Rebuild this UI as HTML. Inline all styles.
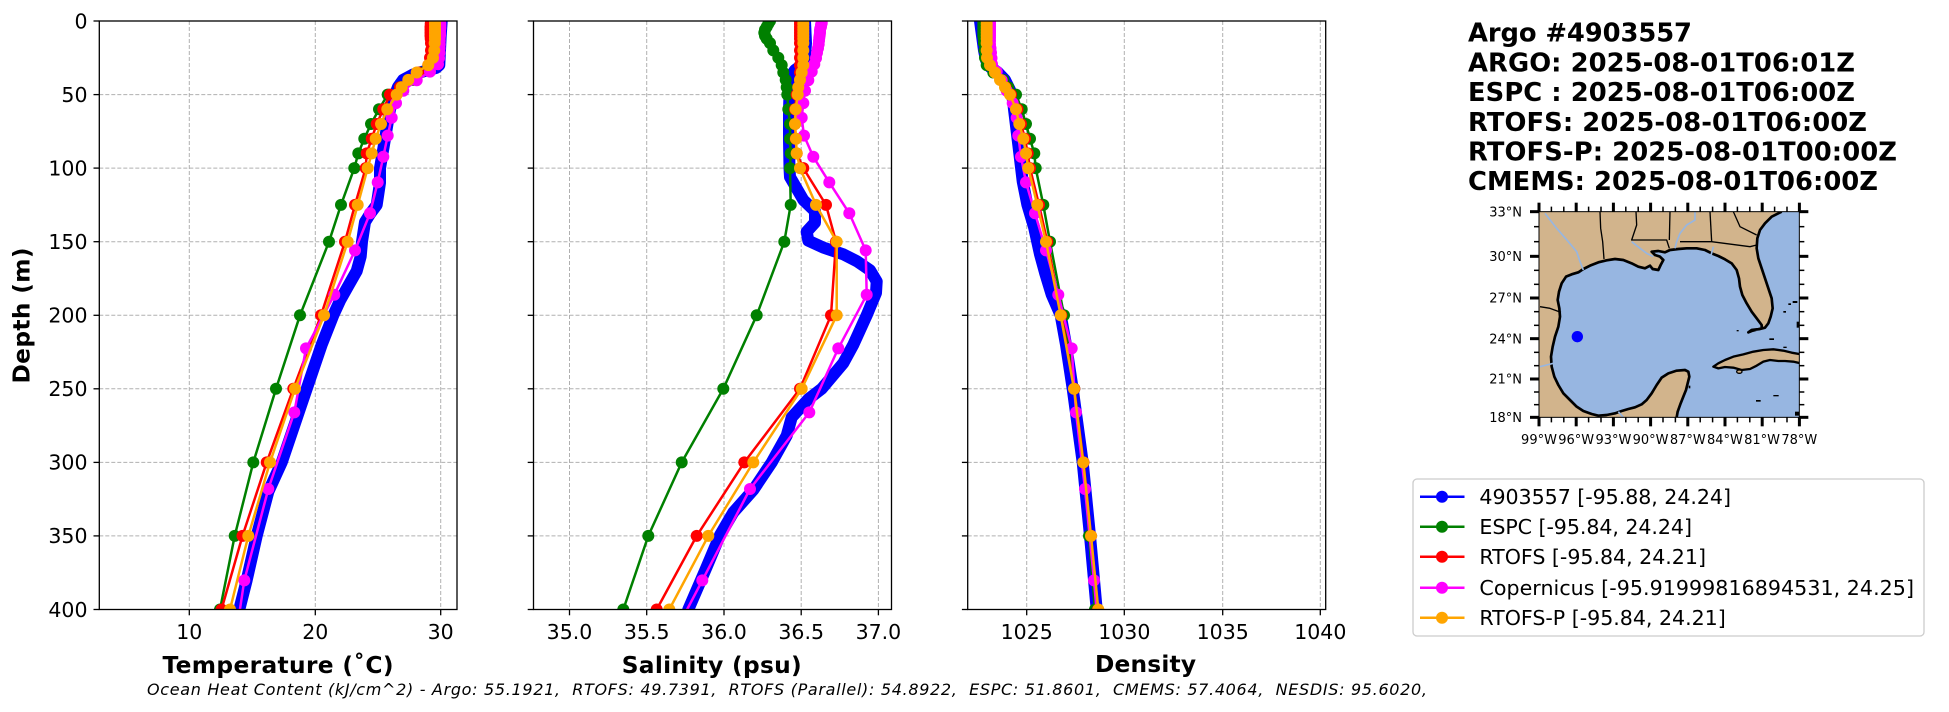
<!DOCTYPE html>
<html><head><meta charset="utf-8"><style>
html,body{margin:0;padding:0;background:#fff;width:1949px;height:712px;overflow:hidden;}
svg{display:block;font-family:"DejaVu Sans","Liberation Sans",sans-serif;}
.grid line{stroke:#b0b0b0;stroke-width:1;stroke-dasharray:4 2;}
.tk line{stroke:#000;stroke-width:1.3;}
.tl{font-size:20.5px;fill:#000;}
.ser{fill:none;stroke-width:2.5;stroke-linejoin:round;}
.ax{font-size:23.3px;font-weight:bold;}
</style></head><body>
<svg width="1949" height="712" viewBox="0 0 1949 712" xmlns="http://www.w3.org/2000/svg">
<defs>
<clipPath id="c1"><rect x="99.3" y="21" width="357.7" height="588.5"/></clipPath>
<clipPath id="c2"><rect x="533.5" y="21" width="358" height="588.5"/></clipPath>
<clipPath id="c3"><rect x="967.7" y="21" width="358" height="588.5"/></clipPath>
<clipPath id="cm"><rect x="267" y="50" width="781" height="617"/></clipPath>
<marker id="mg" markerUnits="userSpaceOnUse" markerWidth="14" markerHeight="14" viewBox="-7 -7 14 14" refX="0" refY="0"><circle r="6" fill="#008000"/></marker>
<marker id="mr" markerUnits="userSpaceOnUse" markerWidth="14" markerHeight="14" viewBox="-7 -7 14 14" refX="0" refY="0"><circle r="6" fill="#ff0000"/></marker>
<marker id="mm" markerUnits="userSpaceOnUse" markerWidth="14" markerHeight="14" viewBox="-7 -7 14 14" refX="0" refY="0"><circle r="6" fill="#ff00ff"/></marker>
<marker id="mo" markerUnits="userSpaceOnUse" markerWidth="14" markerHeight="14" viewBox="-7 -7 14 14" refX="0" refY="0"><circle r="6" fill="#ffa500"/></marker>
</defs>
<rect x="0" y="0" width="1949" height="712" fill="#fff"/>

<!-- ============ PANEL 1 : Temperature ============ -->
<g class="grid">
<line x1="189.3" y1="21" x2="189.3" y2="609.5"/><line x1="315.3" y1="21" x2="315.3" y2="609.5"/><line x1="440.7" y1="21" x2="440.7" y2="609.5"/>
<line x1="99.3" y1="94.6" x2="457" y2="94.6"/><line x1="99.3" y1="168.1" x2="457" y2="168.1"/><line x1="99.3" y1="241.7" x2="457" y2="241.7"/><line x1="99.3" y1="315.3" x2="457" y2="315.3"/><line x1="99.3" y1="388.8" x2="457" y2="388.8"/><line x1="99.3" y1="462.4" x2="457" y2="462.4"/><line x1="99.3" y1="535.9" x2="457" y2="535.9"/>
</g>
<g clip-path="url(#c1)">
<polyline class="ser" stroke="#0000ff" stroke-linecap="round" style="stroke-width:12" points="441.7,21 440.7,35.7 440,50.4 439.3,65.1 436,68 425,71 413,74.5 403,79.9 398,87 395,94.6 390,109.3 385,138.7 380,168.1 380,182.8 376.7,204.9 370,214 365,222 362,241.7 360.7,256.4 356.7,271 348.3,285.8 340,300.6 333.3,315.3 321.7,344.7 311.7,374.1 301.7,403.5 291.7,433 281.7,462.4 268.3,491.8 256.7,535.9 246.7,580.1 239.3,609.5"/>
<polyline class="ser" stroke="#008000" marker-start="url(#mg)" marker-mid="url(#mg)" marker-end="url(#mg)" points="440,21 440,23.9 440,26.9 439.5,29.8 439.5,32.8 439,35.7 438.5,38.7 438,43.1 437,50.4 434,57.8 430,65.1 420,72.5 413.3,79.9 400,87.2 387.7,94.6 379,109.3 371,124 364.3,138.7 358.3,153.4 354.3,168.1 341,204.9 329,241.7 300,315.3 276,388.8 253.3,462.4 234.7,535.9 220,609.5"/>
<polyline class="ser" stroke="#ff0000" marker-start="url(#mr)" marker-mid="url(#mr)" marker-end="url(#mr)" points="431,21 430.7,23.9 430.5,26.9 430.5,29.8 430.5,32.8 430.5,35.7 430.7,38.7 431,43.1 431,50.4 430,57.8 428.3,65.1 418.3,72.5 410,79.9 400,87.2 390,94.6 383.3,109.3 376.7,124 371.7,138.7 366.7,153.4 365.7,168.1 355,204.9 345,241.7 321,315.3 293.3,388.8 266.7,462.4 242.5,535.9 221.5,609.5"/>
<polyline class="ser" stroke="#ff00ff" marker-start="url(#mm)" marker-mid="url(#mm)" marker-end="url(#mm)" points="440,21.7 440.3,23.3 440.3,24.9 440.3,26.6 440.3,28.5 440,30.5 440,32.7 440,35.1 439.7,37.8 439.7,40.8 439.7,44.3 439.5,48.2 439.5,52.8 439,58.1 438,64.3 430,71.6 416.7,80.3 403.3,90.7 396,103.1 391.7,117.8 387.7,135.6 383.3,156.8 377.7,182.4 370,213.3 355,250.4 334.3,294.8 306,348.4 294.3,412.4 268.3,489 244.3,580.4 228,688.8"/>
<polyline class="ser" stroke="#ffa500" marker-start="url(#mo)" marker-mid="url(#mo)" marker-end="url(#mo)" points="435,21 435,23.9 435,26.9 435,29.8 435,32.8 435,35.7 435,38.7 434.7,43.1 434.3,50.4 433,57.8 428.3,65.1 416.7,72.5 408.3,79.9 401.7,87.2 396.7,94.6 387.3,109.3 381,124 375.7,138.7 371.7,153.4 367.7,168.1 357.7,204.9 347.7,241.7 324,315.3 295,388.8 270,462.4 248.3,535.9 230,609.5"/>
</g>
<rect x="99.3" y="21" width="357.7" height="588.5" fill="none" stroke="#000" stroke-width="1.3"/>
<g class="tk">
<line x1="93.5" y1="21" x2="99.3" y2="21"/><line x1="93.5" y1="94.6" x2="99.3" y2="94.6"/><line x1="93.5" y1="168.1" x2="99.3" y2="168.1"/><line x1="93.5" y1="241.7" x2="99.3" y2="241.7"/><line x1="93.5" y1="315.3" x2="99.3" y2="315.3"/><line x1="93.5" y1="388.8" x2="99.3" y2="388.8"/><line x1="93.5" y1="462.4" x2="99.3" y2="462.4"/><line x1="93.5" y1="535.9" x2="99.3" y2="535.9"/><line x1="93.5" y1="609.5" x2="99.3" y2="609.5"/>
<line x1="189.3" y1="609.5" x2="189.3" y2="615.3"/><line x1="315.3" y1="609.5" x2="315.3" y2="615.3"/><line x1="440.7" y1="609.5" x2="440.7" y2="615.3"/>
</g>
<g class="tl" text-anchor="end">
<text x="87.5" y="28.3">0</text><text x="87.5" y="101.9">50</text><text x="87.5" y="175.4">100</text><text x="87.5" y="249">150</text><text x="87.5" y="322.6">200</text><text x="87.5" y="396.1">250</text><text x="87.5" y="469.7">300</text><text x="87.5" y="543.2">350</text><text x="87.5" y="616.8">400</text>
</g>
<g class="tl" text-anchor="middle">
<text x="189.3" y="639">10</text><text x="315.3" y="639">20</text><text x="440.7" y="639">30</text>
</g>
<text class="ax" x="278" y="673" text-anchor="middle" textLength="231">Temperature (˚C)</text>
<text class="ax" transform="translate(29.5,315.5) rotate(-90)" text-anchor="middle" textLength="136">Depth (m)</text>

<!-- ============ PANEL 2 : Salinity ============ -->
<g class="grid">
<line x1="569.5" y1="21" x2="569.5" y2="609.5"/><line x1="646.7" y1="21" x2="646.7" y2="609.5"/><line x1="724" y1="21" x2="724" y2="609.5"/><line x1="801.2" y1="21" x2="801.2" y2="609.5"/><line x1="878.4" y1="21" x2="878.4" y2="609.5"/>
<line x1="533.5" y1="94.6" x2="891.5" y2="94.6"/><line x1="533.5" y1="168.1" x2="891.5" y2="168.1"/><line x1="533.5" y1="241.7" x2="891.5" y2="241.7"/><line x1="533.5" y1="315.3" x2="891.5" y2="315.3"/><line x1="533.5" y1="388.8" x2="891.5" y2="388.8"/><line x1="533.5" y1="462.4" x2="891.5" y2="462.4"/><line x1="533.5" y1="535.9" x2="891.5" y2="535.9"/>
</g>
<g clip-path="url(#c2)">
<polyline class="ser" stroke="#0000ff" stroke-linecap="round" style="stroke-width:12" points="805,21 806,43 805,58 802,65 795,70 791,76 790,80 789,110 789,140 789.5,168 790,177 803.3,199.9 815,211.2 815,222.6 806.7,231.7 808.3,240.7 823.3,247.6 843.3,254.3 856.7,261.1 870,270.2 876.7,281.4 876,292.9 866.7,315.3 853.3,344.7 843.3,363.1 821.7,388.8 808.3,399.1 791.7,417.4 786.7,435.6 771.7,462.4 753.3,489.9 733.3,512.4 720,535.2 706.7,566.8 688.3,609.5"/>
<polyline class="ser" stroke="#008000" marker-start="url(#mg)" marker-mid="url(#mg)" marker-end="url(#mg)" points="770,21 768.3,23.9 766.7,26.9 765,29.8 764.3,32.8 765,35.7 766.7,38.7 770,43.1 773.3,50.4 778.3,57.8 781.7,65.1 783.3,72.5 785.7,79.9 786.7,87.2 787.3,94.6 788.3,109.3 790,124 790,138.7 790.7,153.4 790,168.1 790.7,204.9 784.3,241.7 756.7,315.3 723.3,388.8 681.7,462.4 648.3,535.9 623.3,609.5"/>
<polyline class="ser" stroke="#ff0000" marker-start="url(#mr)" marker-mid="url(#mr)" marker-end="url(#mr)" points="800,21 800,23.9 800,26.9 800,29.8 800,32.8 800,35.7 800,38.7 800,43.1 800,50.4 800,57.8 800,65.1 800,72.5 800,79.9 798.3,87.2 796.7,94.6 795,109.3 795,124 795.7,138.7 796.7,153.4 803.3,168.1 826,204.9 836,241.7 831,315.3 800,388.8 744.3,462.4 696.7,535.9 656.7,609.5"/>
<polyline class="ser" stroke="#ff00ff" marker-start="url(#mm)" marker-mid="url(#mm)" marker-end="url(#mm)" points="821.7,21.7 821.7,23.3 821,24.9 821,26.6 820.3,28.5 820,30.5 820,32.7 819.7,35.1 819.3,37.8 819,40.8 818.7,44.3 818,48.2 817,52.8 816,58.1 814.3,64.3 811.7,71.6 808.3,80.3 805,90.7 803.3,103.1 801.7,117.8 804,135.6 813.3,156.8 829.3,182.4 849.3,213.3 865.7,250.4 866.7,294.8 838.3,348.4 809.3,412.4 750,489 702.3,580.4 645.6,688.8"/>
<polyline class="ser" stroke="#ffa500" marker-start="url(#mo)" marker-mid="url(#mo)" marker-end="url(#mo)" points="803.3,21 803.3,23.9 803.3,26.9 803.3,29.8 803.3,32.8 803.3,35.7 803.3,38.7 803.3,43.1 803.3,50.4 803.3,57.8 803.3,65.1 801.7,72.5 800,79.9 798.3,87.2 797.7,94.6 795.7,109.3 795,124 796,138.7 796.7,153.4 800,168.1 816,204.9 836.7,241.7 836.7,315.3 801.7,388.8 753.3,462.4 708.3,535.9 669.3,609.5"/>
</g>
<rect x="533.5" y="21" width="358" height="588.5" fill="none" stroke="#000" stroke-width="1.3"/>
<g class="tk">
<line x1="527.7" y1="21" x2="533.5" y2="21"/><line x1="527.7" y1="94.6" x2="533.5" y2="94.6"/><line x1="527.7" y1="168.1" x2="533.5" y2="168.1"/><line x1="527.7" y1="241.7" x2="533.5" y2="241.7"/><line x1="527.7" y1="315.3" x2="533.5" y2="315.3"/><line x1="527.7" y1="388.8" x2="533.5" y2="388.8"/><line x1="527.7" y1="462.4" x2="533.5" y2="462.4"/><line x1="527.7" y1="535.9" x2="533.5" y2="535.9"/><line x1="527.7" y1="609.5" x2="533.5" y2="609.5"/>
<line x1="569.5" y1="609.5" x2="569.5" y2="615.3"/><line x1="646.7" y1="609.5" x2="646.7" y2="615.3"/><line x1="724" y1="609.5" x2="724" y2="615.3"/><line x1="801.2" y1="609.5" x2="801.2" y2="615.3"/><line x1="878.4" y1="609.5" x2="878.4" y2="615.3"/>
</g>
<g class="tl" text-anchor="middle">
<text x="569.5" y="639">35.0</text><text x="646.7" y="639">35.5</text><text x="724" y="639">36.0</text><text x="801.2" y="639">36.5</text><text x="878.4" y="639">37.0</text>
</g>
<text class="ax" x="711.7" y="673" text-anchor="middle" textLength="180">Salinity (psu)</text>

<!-- ============ PANEL 3 : Density ============ -->
<g class="grid">
<line x1="1026.7" y1="21" x2="1026.7" y2="609.5"/><line x1="1124.3" y1="21" x2="1124.3" y2="609.5"/><line x1="1222.7" y1="21" x2="1222.7" y2="609.5"/><line x1="1320.3" y1="21" x2="1320.3" y2="609.5"/>
<line x1="967.7" y1="94.6" x2="1325.7" y2="94.6"/><line x1="967.7" y1="168.1" x2="1325.7" y2="168.1"/><line x1="967.7" y1="241.7" x2="1325.7" y2="241.7"/><line x1="967.7" y1="315.3" x2="1325.7" y2="315.3"/><line x1="967.7" y1="388.8" x2="1325.7" y2="388.8"/><line x1="967.7" y1="462.4" x2="1325.7" y2="462.4"/><line x1="967.7" y1="535.9" x2="1325.7" y2="535.9"/>
</g>
<g clip-path="url(#c3)">
<polyline class="ser" stroke="#0000ff" stroke-linecap="round" style="stroke-width:12" points="980,21 982,35.7 984,50.4 986,60 990,67 998,72.5 1005,79.9 1010,90 1013,100 1014,109.3 1017.3,136.5 1022.7,181.4 1027.3,204.5 1034,227 1040,254.3 1045,272.6 1051.7,294.6 1060.7,315.3 1066,344.7 1072.7,388.8 1082.7,462.4 1090,535.9 1096.7,609.5"/>
<polyline class="ser" stroke="#008000" marker-start="url(#mg)" marker-mid="url(#mg)" marker-end="url(#mg)" points="983.3,21 983.3,23.9 983.3,26.9 983.3,29.8 983.3,32.8 983.3,35.7 983.7,38.7 984,43.1 984.5,50.4 985,57.8 986.7,65.1 993.3,72.5 1003.3,79.9 1008.3,87.2 1016,94.6 1021.7,109.3 1026,124 1030,138.7 1034.3,153.4 1035.7,168.1 1043.3,204.9 1050,241.7 1064,315.3 1074.3,388.8 1083.3,462.4 1089,535.9 1095,609.5"/>
<polyline class="ser" stroke="#ff0000" marker-start="url(#mr)" marker-mid="url(#mr)" marker-end="url(#mr)" points="987,21 987,23.9 987,26.9 987,29.8 987,32.8 987,35.7 987,38.7 987,43.1 987,50.4 987.5,57.8 990.5,65.1 995.5,72.5 1000.5,79.9 1005.5,87.2 1011,94.6 1017.5,109.3 1021,124 1025,138.7 1027.7,153.4 1030,168.1 1039,204.9 1047.3,241.7 1061.3,315.3 1074.3,388.8 1083.5,462.4 1091,535.9 1098,609.5"/>
<polyline class="ser" stroke="#ff00ff" marker-start="url(#mm)" marker-mid="url(#mm)" marker-end="url(#mm)" points="990,21.7 990,23.3 990,24.9 990,26.6 990,28.5 990,30.5 990,32.7 990,35.1 990,37.8 990,40.8 990,44.3 990.5,48.2 991,52.8 991.5,58.1 992,64.3 996.7,71.6 1001.7,80.3 1006.7,90.7 1012.7,103.1 1016.7,117.8 1018.3,135.6 1021,156.8 1026,182.4 1035,213.3 1046,250.4 1058.3,294.8 1071.7,348.4 1076,412.4 1085,489 1094,580.4 1103.3,688.8"/>
<polyline class="ser" stroke="#ffa500" marker-start="url(#mo)" marker-mid="url(#mo)" marker-end="url(#mo)" points="986.7,21 986.7,23.9 986.7,26.9 986.7,29.8 986.7,32.8 986.7,35.7 986.7,38.7 986.7,43.1 986.7,50.4 987,57.8 990,65.1 995,72.5 1000,79.9 1005,87.2 1010,94.6 1016,109.3 1019.3,124 1023.3,138.7 1026,153.4 1028.3,168.1 1037.3,204.9 1046,241.7 1060.7,315.3 1074,388.8 1083.3,462.4 1091,535.9 1098.3,609.5"/>
</g>
<rect x="967.7" y="21" width="358" height="588.5" fill="none" stroke="#000" stroke-width="1.3"/>
<g class="tk">
<line x1="961.9" y1="21" x2="967.7" y2="21"/><line x1="961.9" y1="94.6" x2="967.7" y2="94.6"/><line x1="961.9" y1="168.1" x2="967.7" y2="168.1"/><line x1="961.9" y1="241.7" x2="967.7" y2="241.7"/><line x1="961.9" y1="315.3" x2="967.7" y2="315.3"/><line x1="961.9" y1="388.8" x2="967.7" y2="388.8"/><line x1="961.9" y1="462.4" x2="967.7" y2="462.4"/><line x1="961.9" y1="535.9" x2="967.7" y2="535.9"/><line x1="961.9" y1="609.5" x2="967.7" y2="609.5"/>
<line x1="1026.7" y1="609.5" x2="1026.7" y2="615.3"/><line x1="1124.3" y1="609.5" x2="1124.3" y2="615.3"/><line x1="1222.7" y1="609.5" x2="1222.7" y2="615.3"/><line x1="1320.3" y1="609.5" x2="1320.3" y2="615.3"/>
</g>
<g class="tl" text-anchor="middle">
<text x="1026.7" y="639">1025</text><text x="1124.3" y="639">1030</text><text x="1222.7" y="639">1035</text><text x="1320.3" y="639">1040</text>
</g>
<text class="ax" x="1145.5" y="672" text-anchor="middle" textLength="101">Density</text>

<!-- ============ Bottom OHC text ============ -->
<text x="147" y="695" font-size="16" font-style="italic" style="white-space:pre" textLength="1280">Ocean Heat Content (kJ/cm^2) - Argo: 55.1921,  RTOFS: 49.7391,  RTOFS (Parallel): 54.8922,  ESPC: 51.8601,  CMEMS: 57.4064,  NESDIS: 95.6020,</text>

<!-- ============ Title block ============ -->
<g font-size="25.8" font-weight="bold" fill="#000">
<text x="1468" y="41.7" textLength="224">Argo #4903557</text>
<text x="1468" y="71.7" textLength="387">ARGO: 2025-08-01T06:01Z</text>
<text x="1468" y="101" textLength="387" style="white-space:pre">ESPC : 2025-08-01T06:00Z</text>
<text x="1468" y="131" textLength="399">RTOFS: 2025-08-01T06:00Z</text>
<text x="1468" y="160.5" textLength="429">RTOFS-P: 2025-08-01T00:00Z</text>
<text x="1468" y="190" textLength="410">CMEMS: 2025-08-01T06:00Z</text>
</g>

<!-- ============ Map ============ -->
<g transform="translate(1450,195) scale(0.333333)">
<rect x="267" y="50" width="781" height="617" fill="#d2b48c"/>
<g clip-path="url(#cm)">
<path fill="#97b6e1" d="M995,50 L1048,50 L1048,667 L680,667 L683,650 L692,625 L700,605 L708,585 L713,565 L718,545 L715,530 L705,525 L680,527 L655,535 L635,548 L620,570 L605,595 L590,615 L575,628 L555,637 L535,642 L515,648 L495,655 L470,660 L445,662 L425,657 L400,648 L380,635 L360,615 L340,595 L325,570 L313,545 L305,515 L303,485 L308,455 L315,425 L325,395 L330,365 L328,340 L323,315 L327,290 L335,265 L348,245 L365,238 L385,232 L400,222 L420,212 L445,202 L470,196 L495,192 L520,195 L545,205 L565,215 L585,220 L600,212 L608,222 L625,225 L632,210 L640,195 L630,185 L615,180 L605,170 L625,168 L645,172 L660,165 L685,162 L710,160 L740,160 L765,165 L785,175 L805,183 L825,193 L845,205 L860,225 L867,250 L870,275 L877,300 L890,325 L905,350 L920,370 L935,390 L935,400 L905,408 L895,412 L905,405 L930,402 L945,398 L955,385 L962,365 L968,340 L965,310 L955,280 L945,250 L935,220 L925,190 L920,160 L922,130 L930,105 L945,85 L965,65 L985,55 Z"/>
<path fill="none" stroke="#000" stroke-width="8" stroke-linejoin="round" d="M680,667 L683,650 L692,625 L700,605 L708,585 L713,565 L718,545 L715,530 L705,525 L680,527 L655,535 L635,548 L620,570 L605,595 L590,615 L575,628 L555,637 L535,642 L515,648 L495,655 L470,660 L445,662 L425,657 L400,648 L380,635 L360,615 L340,595 L325,570 L313,545 L305,515 L303,485 L308,455 L315,425 L325,395 L330,365 L328,340 L323,315 L327,290 L335,265 L348,245 L365,238 L385,232 L400,222 L420,212 L445,202 L470,196 L495,192 L520,195 L545,205 L565,215 L585,220 L600,212 L608,222 L625,225 L632,210 L640,195 L630,185 L615,180 L605,170 L625,168 L645,172 L660,165 L685,162 L710,160 L740,160 L765,165 L785,175 L805,183 L825,193 L845,205 L860,225 L867,250 L870,275 L877,300 L890,325 L905,350 L920,370 L935,390 L935,400 L905,408 L895,412 L905,405 L930,402 L945,398 L955,385 L962,365 L968,340 L965,310 L955,280 L945,250 L935,220 L925,190 L920,160 L922,130 L930,105 L945,85 L965,65 L985,55 L995,50"/>
<path fill="#d2b48c" stroke="#000" stroke-width="7" stroke-linejoin="round" d="M790,515 L805,505 L825,495 L850,485 L880,478 L910,470 L940,465 L970,463 L1000,467 L1025,473 L1052,478 L1052,505 L1030,500 L1005,498 L985,498 L960,495 L940,500 L920,512 L900,522 L875,525 L850,518 L825,516 L805,520 Z"/>
<ellipse cx="868" cy="530" rx="8" ry="5" fill="#d2b48c" stroke="#000" stroke-width="4"/>
<g fill="#000">
<rect x="1028" y="318" width="14" height="6"/><rect x="1040" y="380" width="8" height="18"/><rect x="958" y="430" width="14" height="5"/><rect x="1000" y="348" width="8" height="5"/><rect x="1015" y="325" width="8" height="5"/>
<rect x="918" y="615" width="14" height="5"/><rect x="970" y="600" width="16" height="4"/><rect x="1035" y="650" width="14" height="12"/><rect x="716" y="572" width="5" height="8"/><rect x="860" y="405" width="6" height="4"/><rect x="1000" y="455" width="10" height="4"/>
</g>
<g fill="none" stroke="#97b6e1" stroke-width="5" stroke-linejoin="round">
<path d="M285,55 L320,100 L355,140 L380,170 L390,200 L400,225"/>
<path d="M735,50 L735,75 L710,90 L690,115 L680,140 L675,160"/>
<path d="M545,140 L570,160 L590,175 L610,185"/>
<path d="M270,515 L290,510 L310,505"/>
<path d="M505,650 L520,667"/>
<path d="M790,155 L782,185"/>
</g>
<g fill="none" stroke="#000" stroke-width="4" stroke-linejoin="round">
<path d="M450,50 L452,100 L458,140 L462,192"/>
<path d="M558,50 L560,90 L545,135 L650,135 L658,160"/>
<path d="M660,50 L658,135"/>
<path d="M690,140 L785,140 L900,155 L920,150"/>
<path d="M780,50 L785,140"/>
<path d="M270,335 L300,340 L333,352"/>
<path d="M850,50 L870,95 L920,120"/>
</g>
<circle cx="382" cy="425" r="17" fill="#0000ff"/>
</g>
<rect x="267" y="50" width="781" height="617" fill="none" stroke="#000" stroke-width="3"/>
<g stroke="#000" stroke-width="9">
<line x1="240" y1="50" x2="267" y2="50"/><line x1="240" y1="184" x2="267" y2="184"/><line x1="240" y1="309" x2="267" y2="309"/><line x1="240" y1="431" x2="267" y2="431"/><line x1="240" y1="552" x2="267" y2="552"/><line x1="240" y1="667" x2="267" y2="667"/>
<line x1="1048" y1="50" x2="1075" y2="50"/><line x1="1048" y1="184" x2="1075" y2="184"/><line x1="1048" y1="309" x2="1075" y2="309"/><line x1="1048" y1="431" x2="1075" y2="431"/><line x1="1048" y1="552" x2="1075" y2="552"/><line x1="1048" y1="667" x2="1075" y2="667"/>
<line x1="267" y1="23" x2="267" y2="50"/><line x1="378.6" y1="23" x2="378.6" y2="50"/><line x1="490.2" y1="23" x2="490.2" y2="50"/><line x1="601.8" y1="23" x2="601.8" y2="50"/><line x1="713.4" y1="23" x2="713.4" y2="50"/><line x1="825" y1="23" x2="825" y2="50"/><line x1="936.6" y1="23" x2="936.6" y2="50"/><line x1="1048.2" y1="23" x2="1048.2" y2="50"/>
<line x1="267" y1="667" x2="267" y2="694"/><line x1="378.6" y1="667" x2="378.6" y2="694"/><line x1="490.2" y1="667" x2="490.2" y2="694"/><line x1="601.8" y1="667" x2="601.8" y2="694"/><line x1="713.4" y1="667" x2="713.4" y2="694"/><line x1="825" y1="667" x2="825" y2="694"/><line x1="936.6" y1="667" x2="936.6" y2="694"/><line x1="1048.2" y1="667" x2="1048.2" y2="694"/>
</g>
<g stroke="#000" stroke-width="4.5">
<line x1="252" y1="95" x2="267" y2="95"/><line x1="252" y1="140" x2="267" y2="140"/><line x1="252" y1="226" x2="267" y2="226"/><line x1="252" y1="268" x2="267" y2="268"/><line x1="252" y1="350" x2="267" y2="350"/><line x1="252" y1="391" x2="267" y2="391"/><line x1="252" y1="472" x2="267" y2="472"/><line x1="252" y1="512" x2="267" y2="512"/><line x1="252" y1="591" x2="267" y2="591"/><line x1="252" y1="629" x2="267" y2="629"/>
<line x1="1048" y1="95" x2="1063" y2="95"/><line x1="1048" y1="140" x2="1063" y2="140"/><line x1="1048" y1="226" x2="1063" y2="226"/><line x1="1048" y1="268" x2="1063" y2="268"/><line x1="1048" y1="350" x2="1063" y2="350"/><line x1="1048" y1="391" x2="1063" y2="391"/><line x1="1048" y1="472" x2="1063" y2="472"/><line x1="1048" y1="512" x2="1063" y2="512"/><line x1="1048" y1="591" x2="1063" y2="591"/><line x1="1048" y1="629" x2="1063" y2="629"/>
<path d="M304.2,35V50M341.4,35V50M415.8,35V50M453,35V50M527.4,35V50M564.6,35V50M639,35V50M676.2,35V50M750.6,35V50M787.8,35V50M862.2,35V50M899.4,35V50M973.8,35V50M1011,35V50"/>
<path d="M304.2,667V682M341.4,667V682M415.8,667V682M453,667V682M527.4,667V682M564.6,667V682M639,667V682M676.2,667V682M750.6,667V682M787.8,667V682M862.2,667V682M899.4,667V682M973.8,667V682M1011,667V682"/>
</g>
</g>
<g font-size="13" fill="#000" text-anchor="end">
<text x="1522" y="216.4">33°N</text><text x="1522" y="261">30°N</text><text x="1522" y="302.7">27°N</text><text x="1522" y="343.4">24°N</text><text x="1522" y="383.7">21°N</text><text x="1522" y="422">18°N</text>
</g>
<g font-size="13" fill="#000" text-anchor="middle">
<text x="1539" y="444">99°W</text><text x="1576.2" y="444">96°W</text><text x="1613.4" y="444">93°W</text><text x="1650.6" y="444">90°W</text><text x="1687.8" y="444">87°W</text><text x="1724.9" y="444">84°W</text><text x="1762.1" y="444">81°W</text><text x="1799.3" y="444">78°W</text>
</g>

<!-- ============ Legend ============ -->
<rect x="1413" y="479" width="511" height="157" rx="4" ry="4" fill="#fff" stroke="#cccccc" stroke-width="1.3"/>
<g stroke-width="2.5">
<line x1="1420" y1="496.7" x2="1464.5" y2="496.7" stroke="#0000ff"/><circle cx="1442" cy="496.7" r="6" fill="#0000ff"/>
<line x1="1420" y1="526.7" x2="1464.5" y2="526.7" stroke="#008000"/><circle cx="1442" cy="526.7" r="6" fill="#008000"/>
<line x1="1420" y1="556.7" x2="1464.5" y2="556.7" stroke="#ff0000"/><circle cx="1442" cy="556.7" r="6" fill="#ff0000"/>
<line x1="1420" y1="587.7" x2="1464.5" y2="587.7" stroke="#ff00ff"/><circle cx="1442" cy="587.7" r="6" fill="#ff00ff"/>
<line x1="1420" y1="617.7" x2="1464.5" y2="617.7" stroke="#ffa500"/><circle cx="1442" cy="617.7" r="6" fill="#ffa500"/>
</g>
<g font-size="20.6" fill="#000">
<text x="1479.4" y="504" textLength="251.6">4903557 [-95.88, 24.24]</text>
<text x="1479.4" y="534" textLength="212.6">ESPC [-95.84, 24.24]</text>
<text x="1479.4" y="564" textLength="226.6">RTOFS [-95.84, 24.21]</text>
<text x="1479.4" y="595" textLength="434.6">Copernicus [-95.91999816894531, 24.25]</text>
<text x="1479.4" y="625" textLength="246.4">RTOFS-P [-95.84, 24.21]</text>
</g>
</svg>
</body></html>
